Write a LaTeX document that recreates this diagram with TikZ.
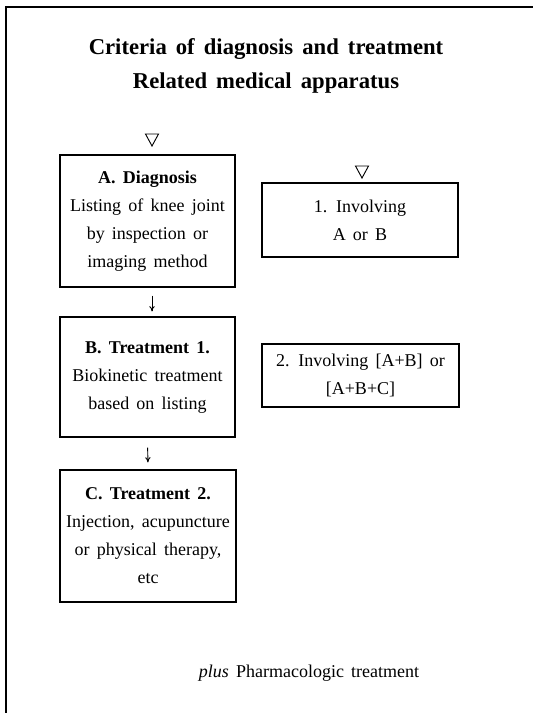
\documentclass[tikz,border=0pt]{standalone}
\usepackage{fontspec}
\setmainfont{Liberation Serif}[WordSpace=1.6]
\usetikzlibrary{arrows.meta}
\begin{document}
\begin{tikzpicture}[x=0.75pt,y=-0.75pt,
  framel/.style={line width=1.3pt},
  boxst/.style={draw, line width=0.8pt, inner sep=0pt, align=center,
    font=\fontsize{13.5}{21}\selectfont},
  txt/.style={inner sep=0pt, align=center, font=\fontsize{13.5}{21}\selectfont},
  titlest/.style={inner sep=0pt, align=center, font=\fontsize{17}{25.5}\selectfont\bfseries},
  tri/.style={line width=0.7pt},
  arr/.style={line width=0.7pt, -{To[length=4pt,width=4pt]}}]
\useasboundingbox (0,0) rectangle (533,713);
\draw[framel] (6,713) -- (6,7) -- (533,7);
\node[titlest] (title) at (266,66) {Criteria of diagnosis and treatment\\Related medical apparatus};
\draw[tri] (145.5,134) -- (158.5,134) -- (152,146) -- cycle;
\draw[tri] (355.5,166) -- (368.5,166) -- (362,178) -- cycle;
\node[boxst, minimum width=175*0.75pt, minimum height=132*0.75pt] (A) at (147.5,221)
  {\textbf{A. Diagnosis}\\Listing of knee joint\\by inspection or\\imaging method};
\node[boxst, minimum width=196*0.75pt, minimum height=74*0.75pt] (one) at (360,220)
  {1. Involving\\A or B};
\node[boxst, minimum width=175*0.75pt, minimum height=120*0.75pt] (B) at (147.5,377)
  {\textbf{B. Treatment 1.}\\Biokinetic treatment\\based on listing};
\node[boxst, minimum width=197*0.75pt, minimum height=63*0.75pt] (two) at (360.5,375.5)
  {2. Involving [A+B] or\\{}[A+B+C]};
\node[boxst, minimum width=176*0.75pt, minimum height=132*0.75pt] (C) at (148,536)
  {\textbf{C. Treatment 2.}\\Injection, acupuncture\\or physical therapy,\\etc};
\node[txt] (plus) at (309,673) {\textit{plus} Pharmacologic treatment};
\draw[arr, shorten <=8*0.75pt, shorten >=5*0.75pt] ([xshift=4.5*0.75pt]A.south) -- ([xshift=4.5*0.75pt]B.north);
\draw[arr, shorten <=10*0.75pt, shorten >=7*0.75pt] (B.south) -- (C.north);
\end{tikzpicture}
\end{document}
